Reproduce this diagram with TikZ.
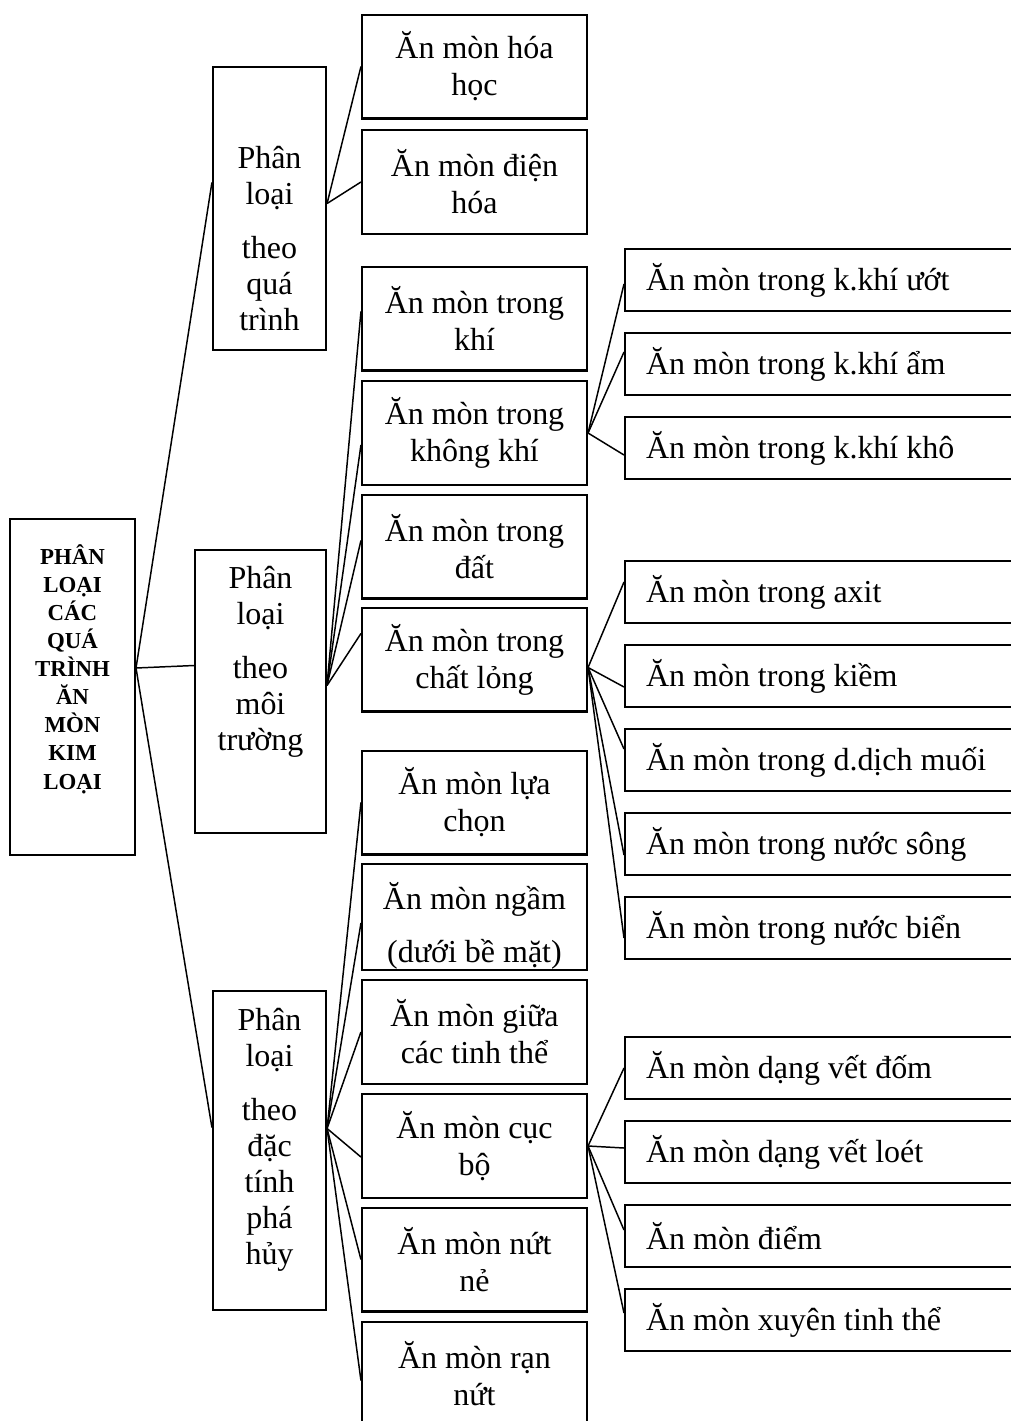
\documentclass[tikz,border=0pt]{standalone}
\usepackage{fontspec}
\setmainfont{Liberation Serif}
\usetikzlibrary{calc}
\tikzset{
  box/.style={draw, line width=0.9pt, inner sep=0pt, align=center,
    font=\fontsize{14}{16.2}\selectfont},
  rootbox/.style={box, minimum width=54.7pt, minimum height=147.1pt},
  groupbox/.style={box, minimum height=123.9pt},
  kindbox/.style={box, minimum width=98.5pt, minimum height=45.5pt},
  leafbox/.style={box, anchor=west, align=flush left, inner xsep=9.2pt,
    text width=159.8pt, minimum height=27.1pt},
  boxtext/.style={align=center, inner sep=0pt, font=\fontsize{14}{15.8}\selectfont},
  link/.style={line width=0.65pt}
}
\begin{document}
\begin{tikzpicture}[x=0.4377pt, y=-0.4377pt]
  \useasboundingbox (0,0) rectangle (1011,1421);
  % root
  \node[rootbox] (root) at (72.5,687) {};
  \node[boxtext, font=\fontsize{10}{12.3}\selectfont\bfseries] (roottext) at (72.5,669)
    {PHÂN\\LOẠI\\CÁC\\QUÁ\\TRÌNH\\ĂN\\MÒN\\KIM\\LOẠI};
  % three ways of classifying
  \node[groupbox, minimum width=49.5pt] (proc) at (269.5,208.5) {};
  \node[boxtext] (proctext) at (269.5,238.5) {Phân\\loại\\[7.8pt]theo\\quá\\trình};
  \node[groupbox, minimum width=57.3pt] (env) at (260.5,691.5) {};
  \node[boxtext] (envtext) at (260.5,662) {Phân\\loại\\[7.8pt]theo\\môi\\trường};
  \node[groupbox, minimum width=49.5pt, minimum height=139.6pt] (dmg) at (269.5,1150.5) {};
  \node[boxtext] (dmgtext) at (269.5,1140) {Phân\\loại\\[7.8pt]theo\\đặc\\tính\\phá\\hủy};

  % kinds of corrosion (middle column)
  \node[kindbox] (hoahoc) at (474.5,66.5) {Ăn mòn hóa\\học};
  \node[kindbox] (dienhoa) at (474.5,182) {Ăn mòn điện\\hóa};
  \node[kindbox] (khi) at (474.5,318.5) {Ăn mòn trong\\khí};
  \node[kindbox] (khongkhi) at (474.5,433) {Ăn mòn trong\\không khí};
  \node[kindbox] (dat) at (474.5,546.5) {Ăn mòn trong\\đất};
  \node[kindbox] (chatlong) at (474.5,659.5) {Ăn mòn trong\\chất lỏng};
  \node[kindbox] (luachon) at (474.5,802.5) {Ăn mòn lựa\\chọn};
  \node[kindbox] (ngam) at (474.5,917) {\rule{0pt}{20pt}Ăn mòn ngầm\\[7pt](dưới bề mặt)};
  \node[kindbox] (giua) at (474.5,1032) {Ăn mòn giữa\\các tinh thể};
  \node[kindbox] (cucbo) at (474.5,1146) {Ăn mòn cục\\bộ};
  \node[kindbox] (nutne) at (474.5,1259.5) {Ăn mòn nứt\\nẻ};
  \node[kindbox] (rannut) at (474.5,1373.5) {Ăn mòn rạn\\nứt};

  % right column
  \foreach \n/\y/\t in {uot/280/{Ăn mòn trong k.khí ướt}, am/364/{Ăn mòn trong k.khí ẩm},
      kho/448/{Ăn mòn trong k.khí khô}, axit/592/{Ăn mòn trong axit},
      kiem/676/{Ăn mòn trong kiềm}, muoi/760/{Ăn mòn trong d.dịch muối},
      song/844/{Ăn mòn trong nước sông}, bien/928/{Ăn mòn trong nước biển},
      dom/1068/{Ăn mòn dạng vết đốm}, loet/1152/{Ăn mòn dạng vết loét},
      diem/1236/{Ăn mòn điểm}, xuyen/1320/{Ăn mòn xuyên tinh thể}}
    \node[leafbox] (\n) at (624,\y) {\t};

  % connectors
  \coordinate (rootout) at ($(root.east)+(0,-19)$);
  \draw[link] (rootout) -- ($(proc.west)+(0,-26)$);
  \draw[link] (rootout) -- ($(env.west)+(0,-26)$);
  \draw[link] (rootout) -- ($(dmg.west)+(0,-23)$);

  \coordinate (procout) at ($(proc.east)+(0,-5)$);
  \foreach \k in {hoahoc, dienhoa}
    \draw[link] (procout) -- (\k.west);

  \coordinate (envout) at ($(env.east)+(0,-6)$);
  \foreach \k/\d in {khi/-7, khongkhi/12, dat/-6, chatlong/-26}
    \draw[link] (envout) -- ($(\k.west)+(0,\d)$);

  \coordinate (dmgout) at ($(dmg.east)+(0,-22)$);
  \foreach \k/\d in {luachon/0, ngam/6, giua/0, cucbo/11, nutne/0, rannut/7}
    \draw[link] (dmgout) -- ($(\k.west)+(0,\d)$);

  \foreach \k/\d in {uot/4, am/-12, kho/7}
    \draw[link] (khongkhi.east) -- ($(\k.west)+(0,\d)$);
  \foreach \k/\d in {axit/-10, kiem/11, muoi/-11, song/11, bien/10}
    \draw[link] ($(chatlong.east)+(0,8)$) -- ($(\k.west)+(0,\d)$);
  \foreach \k/\d in {dom/0, loet/-4, diem/-6, xuyen/-7}
    \draw[link] (cucbo.east) -- ($(\k.west)+(0,\d)$);
\end{tikzpicture}
\end{document}
